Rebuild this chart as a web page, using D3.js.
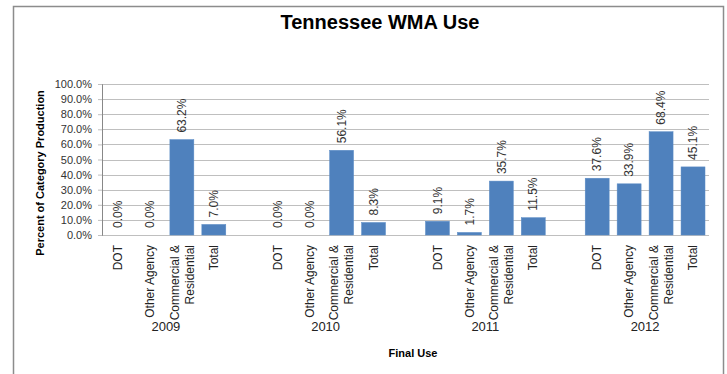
<!DOCTYPE html>
<html>
<head>
<meta charset="utf-8">
<script src="https://cdn.jsdelivr.net/npm/d3@7"></script>
<style>
  html, body { margin: 0; padding: 0; background: #fff; }
  svg { display: block; }
  text { font-family: "Liberation Sans", Arial, sans-serif; }
</style>
</head>
<body>
<svg id="chart" width="727" height="374"></svg>
<script>
const years = ["2009", "2010", "2011", "2012"];
const categories = ["DOT", "Other Agency", "Commercial & Residential", "Total"];
const categoryLabels = [["DOT"], ["Other Agency"], ["Commercial &", "Residential"], ["Total"]];
const values2009 = [0.0, 0.0, 63.2, 7.0];
const values2010 = [0.0, 0.0, 56.1, 8.3];
const values2011 = [9.1, 1.7, 35.7, 11.5];
const values2012 = [37.6, 33.9, 68.4, 45.1];
const yTicks = [0, 10, 20, 30, 40, 50, 60, 70, 80, 90, 100];

const seriesByYear = [values2009, values2010, values2011, values2012];
const data = [];
years.forEach((yr, i) => {
  categories.forEach((c, j) => data.push({ year: yr, cat: c, value: seriesByYear[i][j] }));
});

const svg = d3.select("#chart");
const plotLeft = 102, plotRight = 709, plotTop = 84, plotBottom = 235;

// outer border
svg.append("rect")
  .attr("x", 13.5).attr("y", 6.5)
  .attr("width", 710).attr("height", 380)
  .attr("fill", "none").attr("stroke", "#8c8c8c").attr("stroke-width", 1.5);

const x0 = d3.scaleBand().domain(years).range([plotLeft, plotRight]).paddingInner(0.2).paddingOuter(0);
const x1 = d3.scaleBand().domain(categories).range([0, x0.bandwidth()]).paddingInner(0.25).paddingOuter(0.125);
const y = d3.scaleLinear().domain([0, 100]).range([plotBottom, plotTop]);

// gridlines
svg.append("g").selectAll("line").data(yTicks.filter(d => d > 0)).join("line")
  .attr("x1", plotLeft).attr("x2", plotRight)
  .attr("y1", d => Math.round(y(d)) + 0.5).attr("y2", d => Math.round(y(d)) + 0.5)
  .attr("stroke", "#bfbfbf").attr("stroke-width", 1);
svg.append("line").attr("x1", plotLeft - 4).attr("x2", plotRight)
  .attr("y1", Math.round(y(0)) + 0.5).attr("y2", Math.round(y(0)) + 0.5).attr("stroke", "#bfbfbf");

// y axis
const yAxis = d3.axisLeft(y).tickValues(yTicks).tickFormat(d => d.toFixed(1) + "%").tickSize(4).tickPadding(6);
const ga = svg.append("g").attr("transform", `translate(${plotLeft},0)`).call(yAxis);
ga.select(".domain").attr("stroke", "#888");
ga.selectAll(".tick line").attr("stroke", "#bfbfbf");
ga.selectAll(".tick text").attr("font-size", 11).attr("fill", "#333").attr("font-family", "Liberation Sans, Arial, sans-serif");

// bars
const bx = d => x0(d.year) + x1(d.cat);
svg.append("g").selectAll("rect").data(data).join("rect")
  .attr("x", bx)
  .attr("y", d => y(d.value))
  .attr("width", x1.bandwidth())
  .attr("height", d => y(0) - y(d.value))
  .attr("fill", "#4f81bd")
  .attr("stroke", "#5b8cc6").attr("stroke-width", 0.5);

// data labels
svg.append("g").selectAll("text").data(data).join("text")
  .attr("transform", d => `translate(${bx(d) + x1.bandwidth() / 2},${y(d.value) - 7}) rotate(-90)`)
  .attr("dy", "0.35em")
  .attr("text-anchor", "start")
  .attr("font-size", 12)
  .attr("fill", "#333")
  .text(d => d.value.toFixed(1) + "%");

// category labels
const catG = svg.append("g");
years.forEach(yr => {
  categories.forEach((c, j) => {
    const lines = categoryLabels[j];
    const cx = x0(yr) + x1(c) + x1.bandwidth() / 2;
    const t = catG.append("text")
      .attr("transform", `translate(${cx},245) rotate(-90)`)
      .attr("text-anchor", "end")
      .attr("font-size", 12)
      .attr("fill", "#222");
    lines.forEach((ln, k) => {
      const off = (k - (lines.length - 1) / 2) * 15;
      t.append("tspan").attr("x", 0).attr("y", off).attr("dy", "0.35em").text(ln);
    });
  });
});

// year labels
svg.append("g").selectAll("text").data(years).join("text")
  .attr("x", d => x0(d) + x0.bandwidth() / 2)
  .attr("y", 331)
  .attr("text-anchor", "middle")
  .attr("font-size", 13)
  .attr("fill", "#222")
  .text(d => d);

// titles
svg.append("text").attr("x", 380).attr("y", 29).attr("text-anchor", "middle")
  .attr("font-size", 20).attr("font-weight", "bold").attr("fill", "#000")
  .text("Tennessee WMA Use");
svg.append("text").attr("x", 413).attr("y", 357).attr("text-anchor", "middle")
  .attr("font-size", 11).attr("font-weight", "bold").attr("fill", "#000")
  .text("Final Use");
svg.append("text").attr("transform", "translate(44,173) rotate(-90)").attr("text-anchor", "middle")
  .attr("font-size", 11).attr("font-weight", "bold").attr("fill", "#000")
  .text("Percent of Category Production");
</script>
</body>
</html>
